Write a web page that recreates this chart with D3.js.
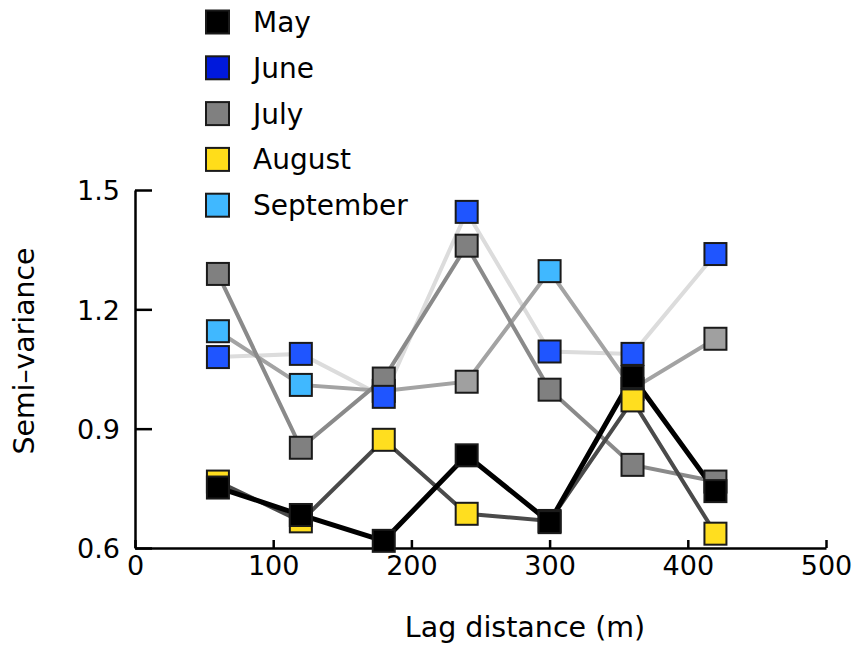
<!DOCTYPE html>
<html>
<head>
<meta charset="utf-8">
<script src="https://cdn.jsdelivr.net/npm/d3@7"></script>
<style>
  html, body { margin: 0; padding: 0; background: #fff; }
  svg { display: block; }
  text { font-family: "DejaVu Sans", sans-serif; fill: #000; }
</style>
</head>
<body>
<svg id="chart" width="859" height="646"></svg>
<script>
// Lag distances (m) and semi-variance per month
const lags = [60, 120, 180, 240, 300, 360, 420];
const may       = [0.752, 0.683, 0.618, 0.833, 0.665, 1.030, 0.743];
const june      = [1.080, 1.088, 0.980, 1.445, 1.094, 1.088, 1.339];
const july      = [1.289, 0.852, 1.026, 1.360, 0.998, 0.809, 0.767];
const august    = [0.767, 0.667, 0.872, 0.686, 0.668, 0.971, 0.636];
const september = [1.145, 1.010, 0.995, 1.018, 1.296, 1.000, 1.126];
const months = ["May", "June", "July", "August", "September"];
const xTicks = [0, 100, 200, 300, 400, 500];
const yTicks = [0.6, 0.9, 1.2, 1.5];

const values = { May: may, June: june, July: july, August: august, September: september };

// Styles
const legendFill = { May: "#000000", June: "#0019dc", July: "#808080", August: "#ffdd1a", September: "#40b8ff" };
const markerFill = { May: "#000000", June: "#1f55ff", July: "#808080", August: "#ffde1f", September: "#40b8ff" };
const septemberPointFill = ["#40b8ff", "#40b8ff", "#40b8ff", "#a0a0a0", "#40b8ff", "#40b8ff", "#a0a0a0"];
const lineColor = { May: "#000000", June: "#dcdcdc", July: "#8a8a8a", August: "#4a4a4a", September: "#a3a3a3" };
const lineWidth = { May: 5, June: 4, July: 4, August: 4, September: 4 };
const lineOrder = ["June", "September", "July", "August", "May"];
const markerOrder = ["September", "July", "August", "May", "June"];

const svg = d3.select("#chart");
const x = d3.scaleLinear().domain([0, 500]).range([135, 826]);
const y = d3.scaleLinear().domain([0.6, 1.5]).range([548, 190]);

// Axes: ticks point inward
const xAxis = d3.axisBottom(x).tickValues(xTicks).tickSizeInner(-8).tickSizeOuter(0).tickPadding(8);
const yAxis = d3.axisLeft(y).tickValues(yTicks).tickSizeInner(-17).tickSizeOuter(0).tickPadding(15)
  .tickFormat(d3.format(".1f"));

const gx = svg.append("g").attr("transform", "translate(0,548)").call(xAxis);
const gy = svg.append("g").attr("transform", "translate(135,0)").call(yAxis);
[gx, gy].forEach(g => {
  g.select(".domain").attr("stroke", "#000").attr("stroke-width", 2.5);
  g.selectAll(".tick line").attr("stroke", "#000").attr("stroke-width", 2.5);
  g.selectAll(".tick text").attr("font-family", "DejaVu Sans").attr("font-size", 27).attr("fill", "#000");
});
gx.selectAll(".tick text").attr("dy", "0.71em");
gy.selectAll(".tick text").attr("dy", "0.36em");

// Axis titles
svg.append("text").attr("x", 525).attr("y", 637).attr("text-anchor", "middle")
  .attr("font-size", 28.5).text("Lag distance (m)");
svg.append("text").attr("transform", "translate(34,351) rotate(-90)").attr("text-anchor", "middle")
  .attr("font-size", 28.3).text("Semi–variance");

// Lines
const line = d3.line().x((d, i) => x(lags[i])).y(d => y(d));
svg.append("g").selectAll("path").data(lineOrder).join("path")
  .attr("d", m => line(values[m]))
  .attr("fill", "none")
  .attr("stroke", m => lineColor[m])
  .attr("stroke-width", m => lineWidth[m])
  .attr("stroke-linejoin", "miter");

// Markers
const ms = 22;
markerOrder.forEach(m => {
  svg.append("g").selectAll("rect").data(values[m]).join("rect")
    .attr("x", (d, i) => x(lags[i]) - ms / 2)
    .attr("y", d => y(d) - ms / 2)
    .attr("width", ms).attr("height", ms)
    .attr("fill", (d, i) => m === "September" ? septemberPointFill[i] : markerFill[m])
    .attr("stroke", "#1a1a1a").attr("stroke-width", 2);
});

// Legend
const lg = svg.append("g");
months.forEach((m, i) => {
  const cy = 22 + i * 45.8;
  lg.append("rect").attr("x", 206).attr("y", cy - 11.5).attr("width", 23).attr("height", 23)
    .attr("fill", legendFill[m]).attr("stroke", "#1a1a1a").attr("stroke-width", 2);
  lg.append("text").attr("x", 253).attr("y", cy).attr("dy", "0.36em")
    .attr("font-size", 28).text(m);
});
</script>
</body>
</html>
